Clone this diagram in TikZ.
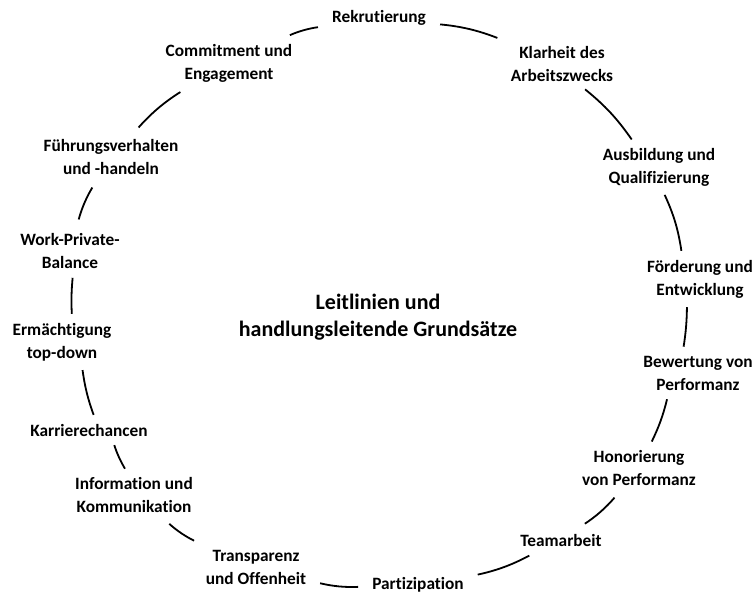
\documentclass[tikz,border=0pt]{standalone}
\usepackage{fontspec}
\setmainfont[Ligatures=NoCommon]{Carlito}
\usepackage{tikz}
\tikzset{%
  % styles for the labels and the arcs
        base/.style = {rectangle, inner sep=5pt, align=center,
                       text=black, font=\bfseries\fontsize{17.3}{23}\selectfont},
        item/.style = {base},
       title/.style = {base, font=\bfseries\fontsize{22}{27}\selectfont},
        link/.style = {line width=1.8pt, shorten >=9pt, shorten <=9pt},
       slink/.style = {link, shorten >=4pt, shorten <=4pt}
}
\begin{document}
\begin{tikzpicture}[x=1pt, y=1pt]
  \useasboundingbox (0,0) rectangle (755,-594);
  % labels round the circle
  \node (rek)  [item] at (379,-18)  {Rekrutierung};
  \node (kla)  [item] at (562,-64)  {Klarheit des\\Arbeitszwecks};
  \node (aus)  [item] at (659,-167) {Ausbildung und\\Qualifizierung};
  \node (foe)  [item] at (700,-279) {Förderung und\\Entwicklung};
  \node (bew)  [item] at (698,-373) {Bewertung von\\Performanz};
  \node (hon)  [item] at (639,-468) {Honorierung\\von Performanz};
  \node (team) [item] at (561,-540) {Teamarbeit};
  \node (par)  [item] at (418,-585) {Partizipation};
  \node (tra)  [item] at (256,-567) {Transparenz\\und Offenheit};
  \node (inf)  [item] at (134,-495) {Information und\\Kommunikation};
  \node (kar)  [item] at (89,-430)  {Karrierechancen};
  \node (erm)  [item] at (62,-342)  {Ermächtigung\\top-down};
  \node (wor)  [item] at (70,-251)  {Work-Private-\\Balance};
  \node (fue)  [item] at (111,-157) {Führungsverhalten\\und -handeln};
  \node (com)  [item] at (229,-63)  {Commitment und\\Engagement};

  \node (lead) [title] at (378,-317) {Leitlinien und\\handlungsleitende Grundsätze};

  % arcs between the labels, clockwise
  \draw[link]  (rek)  to[bend left=8] (kla);
  \draw[slink] ([xshift=20pt]kla.south) to[bend left=8] ([xshift=-25pt]aus.north);
  \draw[slink] ([xshift=4pt]aus.south) to[bend left=8] ([xshift=-18pt]foe.north);
  \draw[slink] ([xshift=-13pt]foe.south) to[bend left=4] ([xshift=-15pt]bew.north);
  \draw[slink] ([xshift=-30pt]bew.south) to[bend left=6] ([xshift=11pt]hon.north);
  \draw[link]  (hon)  to[bend left=8] (team);
  \draw[link]  (team) to[bend left=8] (par);
  \draw[link]  (par)  to[bend left=8] (tra);
  \draw[link]  (tra)  to[bend left=8] (inf);
  \draw[slink] ([xshift=-7pt]inf.north) to[bend left=6] ([xshift=24pt]kar.south);
  \draw[slink] ([xshift=6pt]kar.north) to[bend left=6] ([xshift=20pt]erm.south);
  \draw[slink] ([xshift=10pt]erm.north) to[bend left=4] ([xshift=3pt]wor.south);
  \draw[link]  (wor)  to[bend left=8] (fue);
  \draw[link]  (fue)  to[bend left=8] (com);
  \draw[link]  (com)  to[bend left=8] (rek);
\end{tikzpicture}
\end{document}
